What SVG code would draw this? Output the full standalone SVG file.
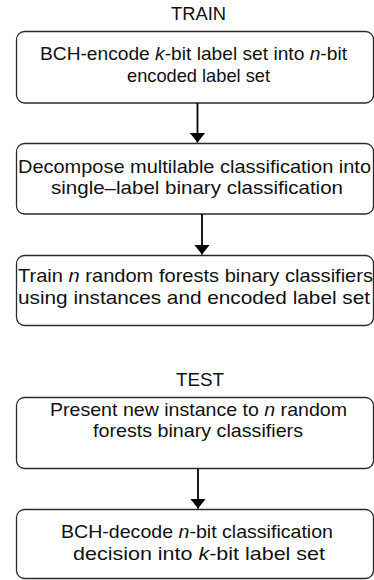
<svg xmlns="http://www.w3.org/2000/svg" width="374" height="580" viewBox="0 0 374 580">
<style>
.box{fill:#fff;stroke:#2a2a2a;stroke-width:1.3}
text{font-family:"Liberation Sans",Arial,sans-serif;font-size:18.5px;fill:#111}
.title{font-size:18.5px}
.edge{stroke:#000;stroke-width:1.8;fill:none}
</style>
<defs>
<marker id="ah" viewBox="0 0 10 16" refX="10" refY="8" markerWidth="10" markerHeight="16" markerUnits="userSpaceOnUse" orient="auto">
<path d="M0,0 L10,8 L0,16 Z" fill="#000"/>
</marker>
</defs>
<rect width="374" height="580" fill="#fff"/>
<text class="title" x="171" y="20" textLength="55" lengthAdjust="spacingAndGlyphs">TRAIN</text>
<g id="n1">
<rect class="box" x="16.5" y="31.5" width="357" height="71.5" rx="8"/>
<text x="40" y="60" textLength="307" lengthAdjust="spacingAndGlyphs">BCH-encode <tspan font-style="italic">k</tspan>-bit label set into <tspan font-style="italic">n</tspan>-bit</text>
<text x="127" y="82" textLength="143" lengthAdjust="spacingAndGlyphs">encoded label set</text>
</g>
<g id="n2">
<rect class="box" x="16.5" y="143.5" width="357" height="70.5" rx="8"/>
<text x="18" y="173" textLength="353" lengthAdjust="spacingAndGlyphs">Decompose multilable classification into</text>
<text x="51" y="194" textLength="292" lengthAdjust="spacingAndGlyphs">single–label binary classification</text>
</g>
<g id="n3">
<rect class="box" x="16.5" y="255.5" width="357" height="70" rx="8"/>
<text x="18" y="282" textLength="355" lengthAdjust="spacingAndGlyphs">Train <tspan font-style="italic">n</tspan> random forests binary classifiers</text>
<text x="18" y="304" textLength="352" lengthAdjust="spacingAndGlyphs">using instances and encoded label set</text>
</g>
<text class="title" x="176" y="386" textLength="48" lengthAdjust="spacingAndGlyphs">TEST</text>
<g id="n4">
<rect class="box" x="16.5" y="397.5" width="357" height="71" rx="8"/>
<text x="50" y="416" textLength="297" lengthAdjust="spacingAndGlyphs">Present new instance to <tspan font-style="italic">n</tspan> random</text>
<text x="93" y="437" textLength="210" lengthAdjust="spacingAndGlyphs">forests binary classifiers</text>
</g>
<g id="n5">
<rect class="box" x="16.5" y="509.5" width="357" height="69" rx="8"/>
<text x="61" y="538" textLength="272" lengthAdjust="spacingAndGlyphs">BCH-decode <tspan font-style="italic">n</tspan>-bit classification</text>
<text x="73" y="560" textLength="252" lengthAdjust="spacingAndGlyphs">decision  into <tspan font-style="italic">k</tspan>-bit label set</text>
</g>
<g id="connectors">
<line class="edge" x1="197.5" y1="103" x2="197.5" y2="142.5" marker-end="url(#ah)"/>
<line class="edge" x1="202" y1="214" x2="202" y2="254.5" marker-end="url(#ah)"/>
<line class="edge" x1="198" y1="469" x2="198" y2="508.5" marker-end="url(#ah)"/>
</g>
</svg>
